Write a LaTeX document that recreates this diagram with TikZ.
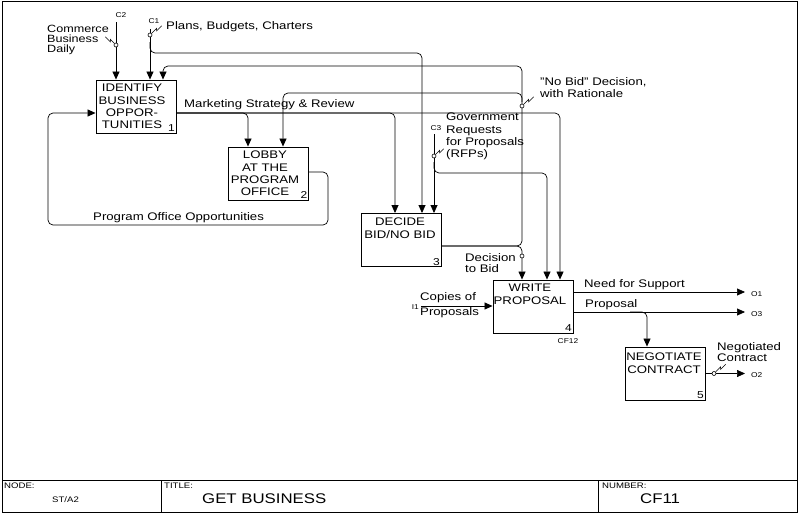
\documentclass[tikz,border=0pt]{standalone}
\usepackage{fontspec}
\setmainfont{Liberation Sans}[FakeStretch=1.2]
\usetikzlibrary{arrows.meta,calc}
\tikzset{
  box/.style={draw, line width=0.9pt, minimum width=80pt, minimum height=53pt, inner sep=0pt},
  btxt/.style={font=\fontsize{11}{12.3}\selectfont, align=center, inner sep=0pt, anchor=north},
  lab/.style={font=\fontsize{11}{12.3}\selectfont, inner sep=0pt, align=left},
  tinylab/.style={font=\fontsize{7}{7.5}\selectfont, inner sep=0pt},
  num/.style={font=\fontsize{10}{10}\selectfont, inner sep=1.5pt, anchor=south east},
  wire/.style={line width=0.7pt, rounded corners=5pt},
  arr/.style={wire, -{Triangle[length=8pt,width=7pt]}},
  tun/.style={draw, circle, inner sep=0pt, minimum size=4pt, line width=0.6pt, fill=white},
  sq/.style={line width=0.6pt},
  foot/.style={font=\fontsize{8}{9}\selectfont, inner sep=0pt},
  big/.style={font=\fontsize{14}{15}\selectfont, inner sep=0pt},
}
\begin{document}
\begin{tikzpicture}[x=1pt,y=-1pt]
\useasboundingbox (0,0) rectangle (800,514);
% frame and footer
\draw[line width=0.8pt] (2,1) rectangle (797,512);
\draw[line width=0.8pt] (2,480) -- (797,480);
\draw[line width=0.8pt] (161,480) -- (161,512);
\draw[line width=0.8pt] (598,480) -- (598,512);
\node[foot, anchor=west] (fnode) at (4,486) {NODE:};
\node[foot, anchor=west] (fnodev) at (52,500) {ST/A2};
\node[foot, anchor=west] (ftitle) at (164,486) {TITLE:};
\node[big, anchor=west] (ftitlev) at (202,499) {GET BUSINESS};
\node[foot, anchor=west] (fnum) at (602,486) {NUMBER:};
\node[big, anchor=west] (fnumv) at (640,499) {CF11};

% boxes
\node[box] (b1) at (136,106.5) {};
\node[box] (b2) at (268.5,173.5) {};
\node[box] (b3) at (401,240) {};
\node[box] (b4) at (533,306.5) {};
\node[box] (b5) at (665,373.5) {};
\node[btxt] (t1) at (132,84) {IDENTIFY\\BUSINESS\\OPPOR-\\TUNITIES};
\node[btxt] (t2) at (265,151) {LOBBY\\AT THE\\PROGRAM\\OFFICE};
\node[btxt] (t3) at (400,218) {DECIDE\\BID/NO BID};
\node[btxt] (t4) at (530,284) {WRITE\\PROPOSAL};
\node[btxt] (t5) at (664,353) {NEGOTIATE\\CONTRACT};
\node[num] (n1) at (b1.south east) {1};
\node[num] (n2) at (b2.south east) {2};
\node[num] (n3) at (b3.south east) {3};
\node[num] (n4) at (b4.south east) {4};
\node[num] (n5) at (b5.south east) {5};
\node[tinylab] (cf12) at (568,341) {CF12};

% C2
\coordinate (c2s) at (116,22);
\node[tinylab] (c2l) at (121,15) {C2};
\draw[arr] (c2s) -- (c2s |- b1.north);
\node[tun] (c2t) at (116,45) {};
\draw[sq] (c2t.north west) -- ++(-4,-4) -- ++(0,2.5) -- ++(-5,-5);
\node[lab, anchor=north west, font=\fontsize{10.5}{10.2}\selectfont] (c2lab) at (47,25) {Commerce\\Business\\Daily};

% C1
\coordinate (c1s) at (150,29);
\node[tinylab] (c1l) at (154,21) {C1};
\draw[arr] (c1s) -- (c1s |- b1.north);
\node[tun] (c1t) at (150,35) {};
\draw[sq] (c1t.north east) -- ++(5,-5) -- ++(0,2.5) -- ++(5,-5);
\node[lab, anchor=west] (c1lab) at (166,27) {Plans, Budgets, Charters};
\draw[arr] (150,42) |- (422,53) -- (422,0 |- b3.north);

% box 3 outputs
\coordinate (b3o) at ($(b3.east)+(0,6)$);
\draw[arr] (b3o) -- (522,246) -- (522,66) -- (163,66) -- (163,0 |- b1.north);
\draw[arr] (522,102) -- (522,93) -- (283,93) -- (283,0 |- b2.north);
\draw[arr] (b3o) -- (522,246) -- (522,0 |- b4.north);
\node[tun] (nbt) at (522,106) {};
\draw[sq] (nbt.north east) -- ++(5,-5) -- ++(0,2.5) -- ++(5,-5);
\node[lab, anchor=north west] (nblab) at (540,77) {"No Bid" Decision,\\with Rationale};
\node[tun] (dbt) at (522,256) {};
\node[lab, anchor=north west, font=\fontsize{11}{11.5}\selectfont] (dblab) at (465,253) {Decision\\to Bid};

% marketing strategy
\coordinate (b1o) at ($(b1.east)+(0,6.5)$);
\draw[arr] (b1o) -- (248,113) -- (248,0 |- b2.north);
\draw[arr] (b1o) -- (395,113) -- (395,0 |- b3.north);
\draw[arr] (b1o) -- (560,113) -- (560,0 |- b4.north);
\node[lab, anchor=south west] (mlab) at (184,109.5) {Marketing Strategy \& Review};

% C3
\coordinate (c3s) at (434,134);
\node[tinylab] (c3l) at (436,128) {C3};
\draw[arr] (c3s) -- (c3s |- b3.north);
\draw[arr] (434,162) |- (547,173) -- (547,0 |- b4.north);
\node[tun] (c3t) at (434,156) {};
\draw[sq] (c3t.north east) -- ++(4,-4) -- ++(0,2.5) -- ++(4,-4);
\node[lab, anchor=north west] (c3lab) at (446,113) {Government\\Requests\\for Proposals\\(RFPs)};

% program office opportunities
\coordinate (b2o) at ($(b2.east)+(0,-1.5)$);
\draw[arr] (b2o) -- (328,172) -- (328,225) -- (48,225) -- (48,113) -- (b1o -| b1.west);
\node[lab, anchor=west] (polab) at (93,218) {Program Office Opportunities};

% I1
\coordinate (i1s) at (421,306);
\node[tinylab, anchor=east] (i1l) at (419,307) {I1};
\draw[arr] (i1s) -- (i1s -| b4.west);
\node[lab, anchor=south west] (i1lab1) at (420,303) {Copies of};
\node[lab, anchor=north west] (i1lab2) at (420,307) {Proposals};

% outputs of box 4
\coordinate (b4o1) at ($(b4.east)+(0,-14.5)$);
\coordinate (b4o3) at ($(b4.east)+(0,5.5)$);
\coordinate (o1) at (745,292);
\coordinate (o3) at (745,312);
\draw[arr] (b4o1) -- (o1);
\draw[arr] (b4o3) -- (o3);
\draw[arr] (630,312) -- (647,312) -- (647,0 |- b5.north);
\node[tinylab, anchor=west] (o1l) at (751,294) {O1};
\node[tinylab, anchor=west] (o3l) at (751,314) {O3};
\node[lab, anchor=south west] (nslab) at (584,290) {Need for Support};
\node[lab, anchor=south west] (prlab) at (585,310) {Proposal};

% output of box 5
\coordinate (o2) at (745,373.5);
\draw[arr] (b5.east) -- (o2);
\node[tinylab, anchor=west] (o2l) at (751,375) {O2};
\node[tun] (o2t) at (714,373.5) {};
\draw[sq] (o2t.north east) -- ++(5,-5) -- ++(0,2.5) -- ++(5,-5);
\node[lab, anchor=north west, font=\fontsize{11}{11}\selectfont] (nclab) at (717,342) {Negotiated\\Contract};
\end{tikzpicture}
\end{document}
